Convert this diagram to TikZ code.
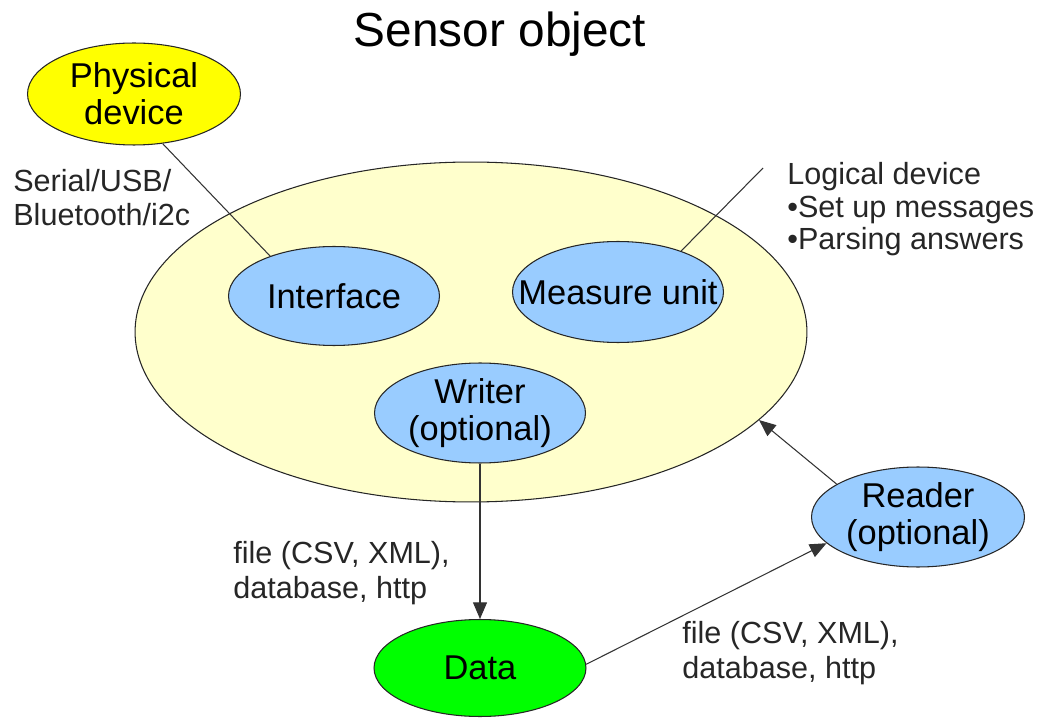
\documentclass[tikz,border=0pt]{standalone}
\usepackage{fontspec}
\setmainfont{Liberation Sans}
\usetikzlibrary{shapes.geometric,arrows.meta}

\definecolor{devyellow}{HTML}{FFFF00}
\definecolor{objyellow}{HTML}{FFFFCC}
\definecolor{unitblue}{HTML}{99CCFF}
\definecolor{datagreen}{HTML}{00FF00}

\begin{document}
\begin{tikzpicture}[x=0.02cm,y=-0.02cm,
    blob/.style={ellipse, draw=black!85, line width=0.6pt, inner sep=0pt},
    inside/.style={font=\fontsize{19.6}{21}\selectfont, align=center, inner sep=0pt},
    side/.style={font=\fontsize{17.4}{19.6}\selectfont, align=left, inner sep=0pt, text=black!85},
    wire/.style={draw=black!80, line width=0.6pt},
    flow/.style={wire, -{Triangle[length=9.5pt,width=8pt]}}]
    \useasboundingbox (0,0) rectangle (1048,719);

    \node[font=\fontsize{27.2}{30}\selectfont, anchor=base, inner sep=0pt] (title) at (500,47) {Sensor object};

    % sensor object and its parts
    \node[blob, fill=objyellow, minimum width=13.44cm, minimum height=6.8cm] (sensor) at (471,332) {};
    \node[blob, fill=unitblue, minimum width=4.22cm, minimum height=1.98cm,
          label={[inside]center:Interface}] (iface) at (334,296) {};
    \node[blob, fill=unitblue, minimum width=4.22cm, minimum height=2.02cm,
          label={[inside]center:Measure unit}] (meas) at (618,292) {};
    \node[blob, fill=unitblue, minimum width=4.22cm, minimum height=2cm,
          label={[inside]center:{Writer\\(optional)}}] (writer) at (480,413) {};

    % outside
    \node[blob, fill=devyellow, minimum width=4.26cm, minimum height=2.04cm,
          label={[inside]center:{Physical\\device}}] (phys) at (134,94) {};
    \node[blob, fill=unitblue, minimum width=4.26cm, minimum height=2cm,
          label={[inside]center:{Reader\\(optional)}}] (reader) at (918,517) {};
    \node[blob, fill=datagreen, minimum width=4.24cm, minimum height=1.94cm,
          label={[inside]center:Data}] (data) at (480,668) {};

    % base of a multi-line node is its last line
    \node[side, anchor=base west] (bus) at (13,226) {Serial/USB/\\Bluetooth/i2c};
    \node[side, anchor=base west, font=\fontsize{17.4}{18.7}\selectfont] (logic) at (787,250)
        {Logical device\\•Set up messages\\•Parsing answers};
    \node[side, anchor=base west] (fmtout) at (233,598) {file (CSV, XML),\\database, http};
    \node[side, anchor=base west] (fmtin) at (682,678) {file (CSV, XML),\\database, http};
    \coordinate (logicend) at (763,168);

    \draw[wire] (phys.300) -- (iface.148);
    \draw[wire] (meas.33) -- (logicend);
    \draw[flow] (writer.south) -- (data.north);
    \draw[flow] (data.2) -- (reader.196);
    \draw[flow] (reader.158) -- (sensor.343);
\end{tikzpicture}
\end{document}
